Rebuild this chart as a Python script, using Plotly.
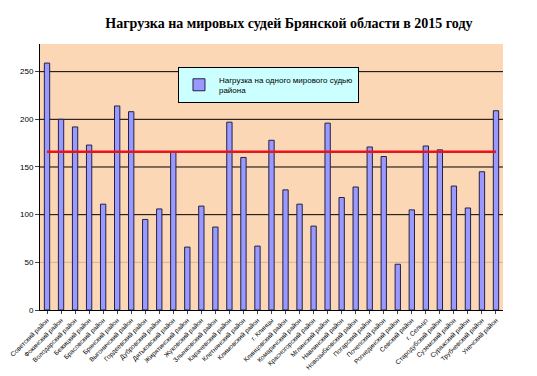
import plotly.graph_objects as go

categories = [
    "Советский район", "Фокинский район", "Володарский район", "Бежицкий район",
    "Брасовский район", "Брянский район", "Выгоничский район", "Гордеевский район",
    "Дубровский район", "Дятьковский район", "Жирятинский район", "Жуковский район",
    "Злынковский район", "Карачевский район", "Клетнянский район", "Климовский район",
    "г. Клинцы", "Клинцовский район", "Комаричский район", "Красногорский район",
    "Мглинский район", "Навлинский район", "Новозыбковский район", "Погарский район",
    "Почепский район", "Рогнединский район", "Севский район", "г. Сельцо",
    "Стародубский район", "Суземский район", "Суражский район", "Трубчевский район",
    "Унечский район",
]
values = [259, 200, 192, 173, 111, 214, 208, 95, 106, 166, 66, 109, 87, 197, 160, 67,
          178, 126, 111, 88, 196, 118, 129, 171, 161, 48, 105, 172, 168, 130, 107, 145, 209]
average = 166
grid_values = [100, 150, 200, 250]
series_name = "Нагрузка на одного мирового судью<br>района"
title = "Нагрузка на мировых судей Брянской области в 2015 году"

fig = go.Figure()
fig.add_trace(go.Bar(
    x=categories, y=values, name=series_name, width=0.38,
    marker=dict(color="#9999FF", line=dict(color="#222244", width=1)),
))
fig.add_trace(go.Scatter(
    x=categories, y=[average] * len(categories), mode="lines",
    line=dict(color="#E8141B", width=2.5), showlegend=False, hoverinfo="skip",
))
fig.add_shape(type="line", xref="paper", x0=0, x1=1, yref="y", y0=50, y1=50,
              line=dict(color="#D2B49C", width=1), layer="below")
for g in grid_values:
    fig.add_shape(type="line", xref="paper", x0=0, x1=1, yref="y", y0=g, y1=g,
                  line=dict(color="black", width=1), layer="below")

fig.update_layout(
    width=529, height=368,
    margin=dict(l=32, r=34, t=36, b=66),
    paper_bgcolor="white", plot_bgcolor="#FCD7B6",
    title=dict(text="<b>" + title + "</b>", x=0.531, xanchor="center", y=0.958, yanchor="middle",
               font=dict(family="Liberation Serif", size=14, color="black")),
    font=dict(family="Liberation Sans", size=8, color="black"),
    showlegend=True,
    legend=dict(x=0.298, y=0.914, xanchor="left", yanchor="top",
                bgcolor="#CCFFFF", bordercolor="black", borderwidth=1,
                font=dict(size=8), entrywidth=165, itemwidth=30,
                tracegroupgap=0),
    bargap=0.6,
)
fig.update_xaxes(tickangle=-45, tickfont=dict(size=6.5), showline=True, linecolor="black",
                 ticks="outside", ticklen=3, showgrid=False, automargin=False,
                 range=[-0.5, len(categories) - 0.5])
fig.update_yaxes(range=[0, 279], dtick=50, showgrid=False,
                 showline=True, linecolor="black", ticks="outside", ticklen=4,
                 zeroline=False, tickfont=dict(size=8), automargin=False)

fig.write_html("out.html")
